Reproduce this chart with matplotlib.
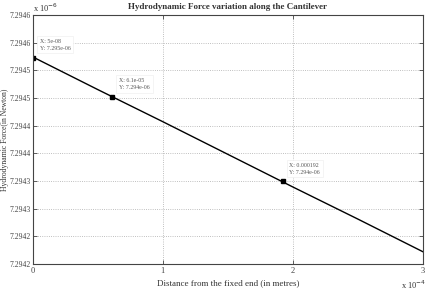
import matplotlib
matplotlib.use('Agg')
import matplotlib.pyplot as plt
import numpy as np

# data (x in units of 1e-4 m, force in units of 1e-6 N)
dist = [0.0, 0.5, 1.0, 1.5, 2.0, 2.5, 3.0]
force = [7.294574, 7.294515, 7.294457, 7.294398, 7.294339, 7.294281, 7.294222]

# data tips
tip_x = [0.0005, 0.61, 1.92]
tip_y = [7.294573, 7.294502, 7.294349]
tip_text = ['X: 5e-08\nY: 7.295e-06', 'X: 6.1e-05\nY: 7.294e-06', 'X: 0.000192\nY: 7.294e-06']

yticks = [7.29420, 7.29425, 7.29430, 7.29435, 7.29440, 7.29445, 7.29450, 7.29455, 7.29460, 7.29465]
ytick_labels = ['7.2942', '7.2942', '7.2943', '7.2943', '7.2944', '7.2944', '7.2945', '7.2945', '7.2946', '7.2946']

plt.rcParams['font.family'] = ['Liberation Serif', 'DejaVu Serif']

fig = plt.figure(figsize=(4.26, 2.92), dpi=100)
ax = fig.add_axes([0.077, 0.096, 0.916, 0.853])

ax.plot(dist, force, color='black', lw=1.0)
ax.plot(tip_x, tip_y, 's', color='black', ms=3)

for x, y, t in zip(tip_x, tip_y, tip_text):
    ax.annotate(t, (x, y), xytext=(5, 5), textcoords='offset points', fontsize=4.2,
                color='#555555', va='bottom', ha='left', linespacing=1.4,
                bbox=dict(boxstyle='square,pad=0.5', fc='white', ec='#f0f0f0', lw=0.5))

ax.set_xlim(0, 3)
ax.set_ylim(7.29420, 7.29465)
ax.set_xticks([0, 1, 2, 3])
ax.set_yticks(yticks)
ax.set_yticklabels(ytick_labels)
ax.tick_params(axis='y', labelsize=5.5, pad=1.5)
ax.tick_params(axis='x', labelsize=6, pad=2)
ax.tick_params(direction='in', colors='#444444', length=3, width=0.6,
               top=True, right=True)
ax.grid(True, linestyle=':', color='#aaaaaa', lw=0.6)
for s in ax.spines.values():
    s.set_color('#444444')
    s.set_linewidth(0.8)

ax.set_title('Hydrodynamic Force variation along the Cantilever', fontsize=6.5,
             fontweight='bold', color='#333333', pad=4)
ax.set_xlabel('Distance from the fixed end (in metres)', fontsize=6.5, color='#333333', labelpad=3)
fig.text(0.002, 0.52, 'Hydrodynamic Force(in Newton)', fontsize=5.5, color='#333333',
         rotation=90, ha='left', va='center')

ax.text(0.0, 1.005, r'x 10$^{-6}$', transform=ax.transAxes, fontsize=6, color='#333333',
        ha='left', va='bottom')
ax.text(0.975, -0.06, r'x 10$^{-4}$', transform=ax.transAxes, fontsize=6, color='#333333',
        ha='center', va='top')

fig.savefig('out.png', dpi=100)
